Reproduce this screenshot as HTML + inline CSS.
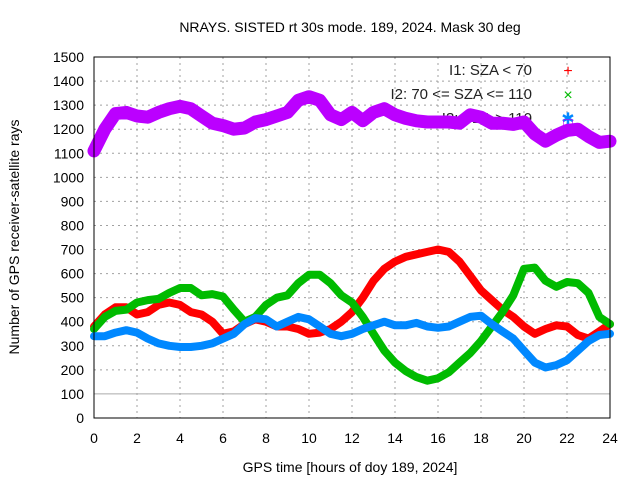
<!DOCTYPE html>
<html><head><meta charset="utf-8"><style>
body{margin:0;background:#fff}
svg{display:block;font-family:"Liberation Sans",sans-serif}
</style></head><body>
<svg id="c" width="640" height="480" xmlns="http://www.w3.org/2000/svg">
<rect width="640" height="480" fill="#fff"/>
<text x="350" y="32" font-size="14" text-anchor="middle">NRAYS. SISTED rt 30s mode. 189, 2024. Mask 30 deg</text>
<text transform="translate(19,237) rotate(-90)" font-size="14" text-anchor="middle">Number of GPS receiver-satellite rays</text>
<text x="350" y="472" font-size="14" text-anchor="middle">GPS time [hours of doy 189, 2024]</text>
<g id="grid"></g><g id="ticks"></g><g id="legend"></g><g id="series"></g>
<rect x="94" y="57" width="516" height="361" fill="none" stroke="#000"/>
</svg>
<script>
const hours=[0,0.5,1,1.5,2,2.5,3,3.5,4,4.5,5,5.5,6,6.5,7,7.5,8,8.5,9,9.5,10,10.5,11,11.5,12,12.5,13,13.5,14,14.5,15,15.5,16,16.5,17,17.5,18,18.5,19,19.5,20,20.5,21,21.5,22,22.5,23,23.5,24];
const allRays=[1110,1200,1265,1270,1255,1250,1270,1285,1295,1285,1255,1225,1215,1200,1205,1230,1240,1255,1270,1320,1335,1320,1260,1240,1270,1235,1270,1285,1260,1245,1235,1230,1230,1230,1225,1260,1250,1225,1225,1220,1230,1180,1150,1175,1195,1200,1170,1145,1150];
const i1=[380,430,460,460,430,440,470,480,470,440,430,400,350,360,390,410,400,380,380,370,350,355,370,400,440,500,570,620,650,670,680,690,700,690,650,590,530,490,450,420,380,350,370,385,380,345,330,360,390];
const i2=[370,420,445,450,480,490,495,520,540,540,510,515,505,450,400,420,470,500,510,560,595,595,560,510,480,420,350,280,230,195,170,155,165,190,230,270,320,380,440,510,620,625,570,545,565,560,520,420,390];
const i3=[340,340,355,365,355,330,310,300,295,295,300,310,330,350,390,415,410,380,400,420,410,380,350,340,350,370,385,400,385,385,395,380,375,380,400,420,425,390,360,330,280,230,210,220,240,280,320,345,350];
const xTicks=[0,2,4,6,8,10,12,14,16,18,20,22,24];
const yTicks=[0,100,200,300,400,500,600,700,800,900,1000,1100,1200,1300,1400,1500];
const X=h=>94+h*516/24, Y=v=>418-v*361/1500;
const NS="http://www.w3.org/2000/svg";
function mk(t,p,a){const e=document.createElementNS(NS,t);for(const k in a)e.setAttribute(k,a[k]);p.appendChild(e);return e;}
const grid=document.getElementById('grid'),ticks=document.getElementById('ticks');
xTicks.forEach(t=>{
 const l=mk('line',grid,{x1:X(t),x2:X(t),y1:57,y2:418,stroke:'#a0a0a0','stroke-dasharray':'2,4'});
 
 
 const tx=mk('text',ticks,{x:X(t),y:443,'font-size':14,'text-anchor':'middle'});tx.textContent=t;
 
 
});
yTicks.forEach(t=>{
 const l=mk('line',grid,{x1:94,x2:610,y1:Y(t),y2:Y(t),stroke:t==100?'#aaa':'#a0a0a0','stroke-dasharray':t==100?'none':'2,4'});
 
 
 const tx=mk('text',ticks,{x:84,y:Y(t)+5,'font-size':14,'text-anchor':'end'});tx.textContent=t;
 
 
});
const lg=document.getElementById('legend');
[['I1: SZA < 70','#f00','+',75],['I2: 70 <= SZA <= 110','#0b0','×',99],['I3: SZA > 110','#08f','✱',123],['Total','#b0f','□',128]].forEach(d=>{
 const g=mk('g',lg,{});
 
 
 const t=mk('text',g,{x:532,y:d[3],'font-size':15,'text-anchor':'end',fill:'#222'});t.textContent=d[0];
 const m=mk('text',g,{x:568,y:d[3]+1,'font-size':16,'text-anchor':'middle',fill:d[1]});m.textContent=d[2];
});
const ser=document.getElementById('series');
[[i1,'#f00',8,'series-i1'],[i2,'#0b0',8,'series-i2'],[i3,'#08f',8,'series-i3'],[allRays,'#b0f',13,'series-total']].forEach(s=>{
 const pts=hours.map((h,i)=>X(h).toFixed(1)+','+Y(s[0][i]).toFixed(1)).join(' ');
 const p=mk('polyline',ser,{points:pts,fill:'none',stroke:s[1],'stroke-width':s[2],'stroke-linejoin':'round','stroke-linecap':'round'});
 
 
});
</script>
</body></html>
